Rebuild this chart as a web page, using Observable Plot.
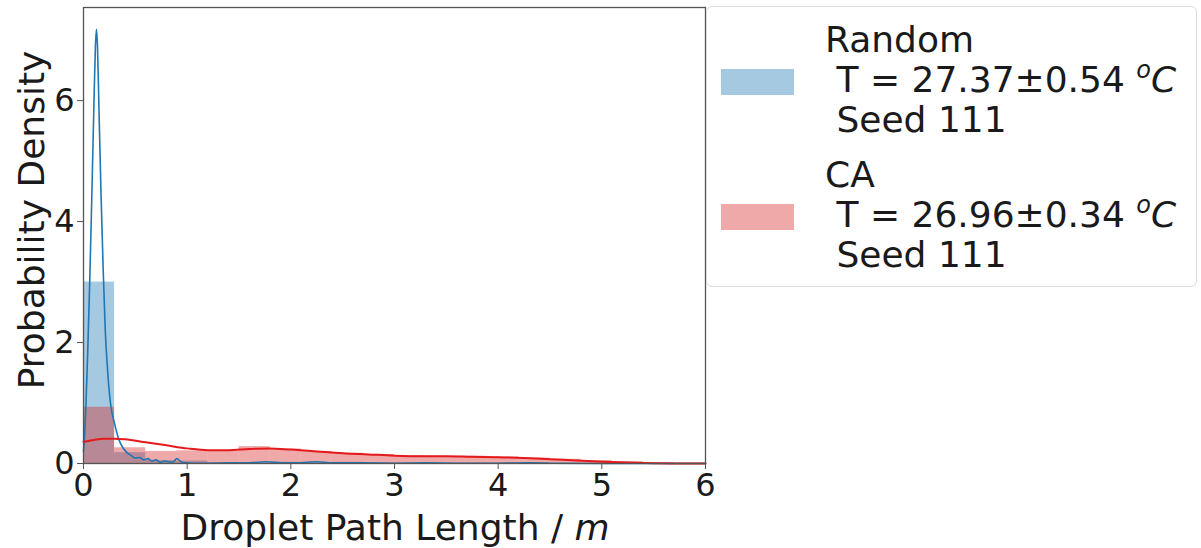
<!DOCTYPE html>
<html>
<head>
<meta charset="utf-8">
<script src="https://cdn.jsdelivr.net/npm/d3@7"></script>
<script src="https://cdn.jsdelivr.net/npm/@observablehq/plot@0.6"></script>
<style>
  html, body { margin: 0; padding: 0; background: #fff; }
  body { width: 1201px; height: 548px; position: relative; overflow: hidden; font-family: "DejaVu Sans", sans-serif; }
  #chart { position: absolute; left: 0; top: 0; }
  #legend { position: absolute; left: 706px; top: 6px; width: 491px; height: 281px; border: 1px solid #dcdcdc; border-radius: 6px; box-sizing: border-box; background: #fff; }
  .patch { position: absolute; left: 14px; width: 73px; height: 26px; }
  .lab { position: absolute; left: 118px; font-size: 36px; line-height: 40px; color: #1a1a1a; white-space: pre; }
  sup { font-size: 24px; line-height: 0; vertical-align: 14px; }
</style>
</head>
<body>
<div id="chart"></div>
<div id="legend"></div>
<script>
// ---- data ----
const binWidth = 0.3;
const binStarts = [0, 0.3, 0.6, 0.9, 1.2, 1.5, 1.8, 2.1, 2.4, 2.7, 3.0, 3.3, 3.6, 3.9, 4.2, 4.5, 4.8, 5.1, 5.4, 5.7];
const randomHist = [3.0, 0.18, 0.05, 0.04, 0.01, 0.01, 0.02, 0.01, 0.02, 0.01, 0.005, 0.005, 0.005, 0.005, 0.01, 0, 0, 0, 0, 0];
const caHist = [0.93, 0.26, 0.2, 0.21, 0.2, 0.28, 0.24, 0.2, 0.17, 0.15, 0.13, 0.12, 0.12, 0.11, 0.09, 0.07, 0.05, 0.03, 0.015, 0.005];

const randomKdeX = [0, 0.02, 0.04, 0.06, 0.08, 0.1, 0.115, 0.125, 0.135, 0.15, 0.17, 0.19, 0.21, 0.23, 0.26, 0.3, 0.34, 0.38, 0.42, 0.46, 0.5, 0.54, 0.58, 0.62, 0.66, 0.7, 0.74, 0.78, 0.82, 0.86, 0.9, 0.94, 0.98, 1.05, 1.2, 1.4, 1.6, 1.75, 1.85, 2.0, 2.15, 2.25, 2.4, 2.7, 3.0, 3.3, 3.6, 4.0, 4.3, 4.5, 5.0, 6.0];
const randomKde = [0.2, 0.8, 1.8, 3.0, 4.4, 5.9, 6.9, 7.18, 6.9, 5.8, 4.4, 3.2, 2.2, 1.6, 1.0, 0.66, 0.4, 0.26, 0.18, 0.13, 0.09, 0.1, 0.06, 0.08, 0.04, 0.06, 0.02, 0.04, 0.03, 0.02, 0.08, 0.03, 0.01, 0.005, 0.005, 0.01, 0.01, 0.03, 0.02, 0.01, 0.02, 0.03, 0.01, 0.01, 0.005, 0.01, 0.005, 0.005, 0.01, 0.005, 0, 0];

const caKdeX = [0, 0.1, 0.2, 0.3, 0.4, 0.6, 0.8, 1.0, 1.2, 1.4, 1.6, 1.8, 2.0, 2.25, 2.5, 2.75, 3.0, 3.25, 3.5, 3.75, 4.0, 4.25, 4.5, 4.75, 5.0, 5.25, 5.5, 5.75, 6.0];
const caKde = [0.36, 0.39, 0.41, 0.41, 0.4, 0.35, 0.3, 0.25, 0.22, 0.22, 0.24, 0.25, 0.23, 0.2, 0.17, 0.15, 0.13, 0.12, 0.12, 0.11, 0.105, 0.09, 0.07, 0.05, 0.03, 0.015, 0.005, 0.001, 0];

const xTicks = [0, 1, 2, 3, 4, 5, 6];
const yTicks = [0, 2, 4, 6];
const seriesNames = ["Random", "CA"];
const seriesTemps = ["27.37±0.54", "26.96±0.34"];
const seriesSeeds = ["111", "111"];
const seriesColors = ["#1f77b4", "#d62728"];

// ---- derived tables ----
const histRandom = binStarts.map((s, i) => ({x1: s, x2: s + binWidth, y: randomHist[i]}));
const histCA = binStarts.map((s, i) => ({x1: s, x2: s + binWidth, y: caHist[i]}));
const kdeRandom = randomKdeX.map((x, i) => ({x, y: randomKde[i]}));
const kdeCA = caKdeX.map((x, i) => ({x, y: caKde[i]}));

const plot = Plot.plot({
  width: 727,
  height: 548,
  marginLeft: 83,
  marginRight: 22,
  marginTop: 7,
  marginBottom: 85,
  style: {fontFamily: "DejaVu Sans, sans-serif", background: "transparent", color: "#1a1a1a", overflow: "visible"},
  x: {domain: [0, 6]},
  y: {domain: [0, 7.54]},
  marks: [
    Plot.rectY(histRandom, {x1: "x1", x2: "x2", y: "y", fill: seriesColors[0], fillOpacity: 0.4}),
    Plot.rectY(histCA, {x1: "x1", x2: "x2", y: "y", fill: seriesColors[1], fillOpacity: 0.4}),
    Plot.line(kdeRandom, {x: "x", y: "y", stroke: seriesColors[0], strokeWidth: 1.6, curve: "monotone-x"}),
    Plot.line(kdeCA, {x: "x", y: "y", stroke: "#e41a1c", strokeWidth: 2, curve: "monotone-x"}),
    Plot.frame({stroke: "#555", strokeWidth: 1.3}),
    Plot.axisX({ticks: xTicks, tickSize: 6, tickPadding: 4, fontSize: 32, label: null, stroke: "#555", tickFormat: d => String(d)}),
    Plot.axisY({ticks: yTicks, tickSize: 6, tickPadding: 3, fontSize: 32, label: null, stroke: "#555", tickFormat: d => String(d)})
  ]
});
document.getElementById("chart").appendChild(plot);

// axis titles as real SVG text
const svg = d3.select(plot);
const xl = svg.append("text")
  .attr("x", 395).attr("y", 540)
  .attr("text-anchor", "middle")
  .attr("font-size", 36).attr("fill", "#1a1a1a")
  .attr("font-family", "DejaVu Sans, sans-serif");
xl.append("tspan").text("Droplet Path Length / ");
xl.append("tspan").attr("font-style", "italic").text("m");

svg.append("text")
  .attr("transform", "translate(44,220) rotate(-90)")
  .attr("text-anchor", "middle")
  .attr("font-size", 36).attr("fill", "#1a1a1a")
  .attr("font-family", "DejaVu Sans, sans-serif")
  .text("Probability Density");

// legend
const legend = d3.select("#legend");
const patchTops = [62, 197];
const labelTops = [13, 148];
seriesNames.forEach((name, i) => {
  legend.append("div").attr("class", "patch")
    .style("top", patchTops[i] + "px")
    .style("background", seriesColors[i]).style("opacity", 0.4);
  const lab = legend.append("div").attr("class", "lab").style("top", labelTops[i] + "px");
  lab.append("div").text(name);
  const t = lab.append("div");
  t.append("span").text(" T = " + seriesTemps[i] + " ");
  t.append("sup").append("i").text("o");
  t.append("i").text("C");
  lab.append("div").text(" Seed " + seriesSeeds[i]);
});
</script>
</body>
</html>
